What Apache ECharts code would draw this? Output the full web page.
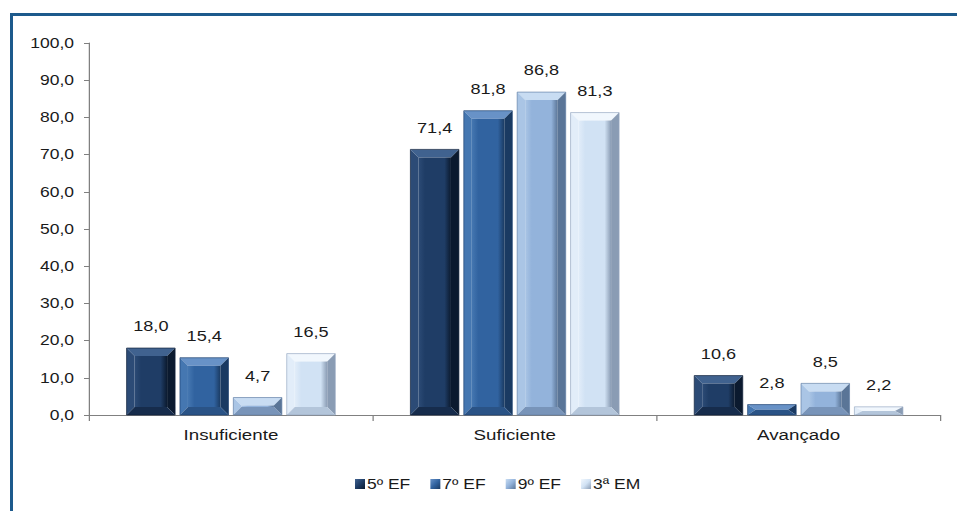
<!DOCTYPE html>
<html>
<head>
<meta charset="utf-8">
<script src="https://cdn.jsdelivr.net/npm/echarts@6/dist/echarts.min.js"></script>
<style>
  html, body { margin: 0; padding: 0; background: #fff; overflow: hidden; }
  #frame { position: absolute; left: 10px; top: 13px; width: 960px; height: 520px;
           border-left: 3px solid #1d5a8c; border-top: 3px solid #1d5a8c; box-sizing: border-box; }
  /* chart laid out narrow, then widened so the type has the broad look of the report */
  #chart { position: absolute; left: 0; top: 0; width: 765.6px; height: 511px;
           transform: scaleX(1.25); transform-origin: 0 0; }
</style>
</head>
<body>
<div id="frame"></div>
<div id="chart"></div>
<script>
const categories = ['Insuficiente', 'Suficiente', 'Avançado'];
const seriesNames = ['5º EF', '7º EF', '9º EF', '3ª EM'];
const ef5 = [18.0, 71.4, 10.6];
const ef7 = [15.4, 81.8, 2.8];
const ef9 = [4.7, 86.8, 8.5];
const em3 = [16.5, 81.3, 2.2];
const yTicks = [0, 10, 20, 30, 40, 50, 60, 70, 80, 90, 100];

// facet colours: face, top, left, right, bottom, outline
const palettes = [
  { face: '#1f3d66', top: '#40628f', left: '#2c4b76', right: '#0b1a2f', bottom: '#162c4c', line: '#0f2038' },
  { face: '#3163a0', top: '#6892c7', left: '#4577b1', right: '#1a3a62', bottom: '#2a5386', line: '#1d4070' },
  { face: '#93b3db', top: '#c8dcf2', left: '#aac5e5', right: '#5a7597', bottom: '#7894b9', line: '#5f7fa5' },
  { face: '#d1e2f4', top: '#f1f7fd', left: '#e2edf9', right: '#8a9cb4', bottom: '#b3c5da', line: '#96a9c2' }
];

const BAR_FRACTION = 0.171;  // bar width as a share of the category band
const BAR_GAP = 0.1;         // gap between bars, as a share of bar width
const BEVEL_X = 6.4, BEVEL_Y = 8;

const fmt = v => v.toFixed(1).replace('.', ',');
const allData = [ef5, ef7, ef9, em3];
const FONT = 'Liberation Sans, Arial, sans-serif';

function makeRender(si) {
  const p = palettes[si];
  return function (params, api) {
    const cat = api.value(0), val = api.value(1);
    const band = api.size([1, 0])[0];
    const w = band * BAR_FRACTION, g = w * BAR_GAP;
    const total = 4 * w + 3 * g;
    const topPt = api.coord([cat, val]);
    const basePt = api.coord([cat, 0]);
    const x0 = topPt[0] - total / 2 + si * (w + g), x1 = x0 + w;
    const y0 = topPt[1], y1 = basePt[1];
    const h = y1 - y0;
    const bx = Math.min(BEVEL_X, w / 2), by = Math.min(BEVEL_Y, h / 2);
    const ix0 = x0 + bx, ix1 = x1 - bx, iy0 = y0 + by, iy1 = y1 - by;
    const poly = (pts, fill) => ({ type: 'polygon', shape: { points: pts }, style: { fill: fill, stroke: null } });
    return {
      type: 'group',
      children: [
        poly([[x0, y0], [x1, y0], [ix1, iy0], [ix0, iy0]], p.top),
        poly([[x0, y0], [ix0, iy0], [ix0, iy1], [x0, y1]], p.left),
        poly([[x1, y0], [x1, y1], [ix1, iy1], [ix1, iy0]], p.right),
        poly([[x0, y1], [ix0, iy1], [ix1, iy1], [x1, y1]], p.bottom),
        {
          type: 'rect', shape: { x: ix0, y: iy0, width: ix1 - ix0, height: Math.max(0, iy1 - iy0) },
          style: {
            fill: new echarts.graphic.LinearGradient(0, 0, 1, 0, [
              { offset: 0, color: p.left }, { offset: 0.2, color: p.face },
              { offset: 0.8, color: p.face }, { offset: 1, color: p.right }
            ]),
            stroke: null
          }
        },
        { type: 'rect', shape: { x: x0, y: y0, width: w, height: h }, style: { fill: null, stroke: p.line, lineWidth: 0.6 } },
        {
          type: 'text', x: (x0 + x1) / 2, y: y0 - 22,
          style: { text: fmt(val), fontSize: 14.5, fontFamily: FONT, fill: '#1a1a1a', align: 'center', verticalAlign: 'middle' }
        }
      ]
    };
  };
}

const chart = echarts.init(document.getElementById('chart'), null, { renderer: 'svg' });
chart.setOption({
  animation: false,
  textStyle: { fontFamily: FONT },
  grid: { left: 71.2, right: 13.6, top: 43, bottom: 96 },
  legend: {
    top: 472,
    left: 279,
    itemWidth: 8, itemHeight: 10, itemGap: 16,
    textStyle: { fontSize: 14, color: '#1a1a1a', padding: [0, 0, 0, -3.4] },
    data: seriesNames.map((n, i) => ({
      name: n, icon: 'rect',
      itemStyle: {
        color: new echarts.graphic.LinearGradient(0, 0, 1, 1, [
          { offset: 0, color: palettes[i].top }, { offset: 0.5, color: palettes[i].face }, { offset: 1, color: palettes[i].right }
        ])
      }
    }))
  },
  xAxis: {
    type: 'category',
    data: categories,
    axisLine: { lineStyle: { color: '#808080', width: 1 } },
    axisTick: { show: true, length: 6, lineStyle: { color: '#808080' } },
    axisLabel: { fontSize: 15, color: '#1a1a1a', margin: 13 }
  },
  yAxis: {
    type: 'value',
    min: yTicks[0], max: yTicks[yTicks.length - 1], interval: yTicks[1] - yTicks[0],
    axisLine: { show: true, lineStyle: { color: '#808080' } },
    axisTick: { show: true, length: 4, lineStyle: { color: '#808080' } },
    splitLine: { show: false },
    axisLabel: { fontSize: 14, color: '#1a1a1a', margin: 12, formatter: fmt }
  },
  series: seriesNames.map((n, i) => ({
    name: n,
    type: 'custom',
    renderItem: makeRender(i),
    itemStyle: { color: palettes[i].face },
    encode: { x: 0, y: 1 },
    data: allData[i].map((v, c) => [c, v])
  }))
});
</script>
</body>
</html>
